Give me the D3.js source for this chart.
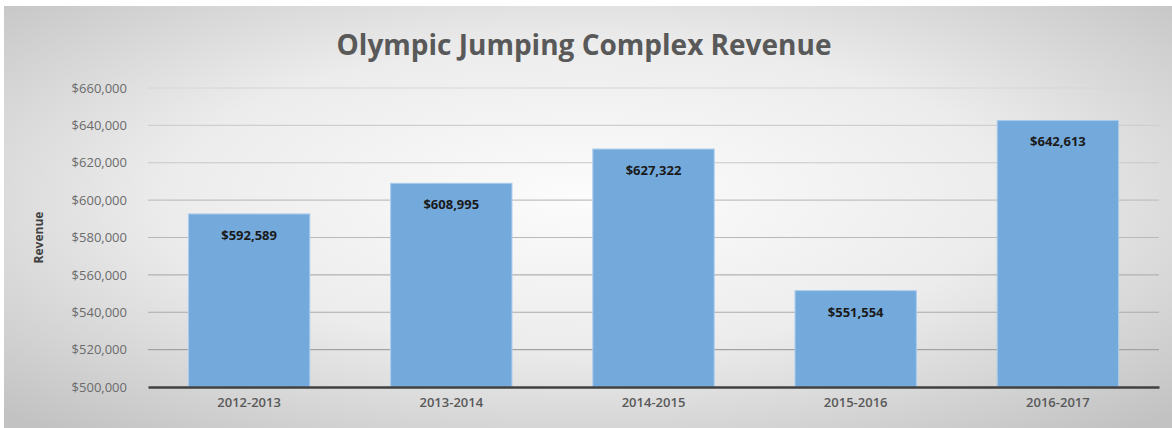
<!DOCTYPE html>
<html>
<head>
<meta charset="utf-8">
<script src="https://cdn.jsdelivr.net/npm/d3@7"></script>
<style>
  html, body { margin: 0; padding: 0; background: #fff; }
  svg { display: block; }
  svg text { font-family: "Open Sans", "Liberation Sans", sans-serif; }
</style>
</head>
<body>
<svg id="chart" width="1172" height="428"></svg>
<script>
const seasons = ['2012-2013', '2013-2014', '2014-2015', '2015-2016', '2016-2017'];
const revenue = [592589, 608995, 627322, 551554, 642613];
const yTicks = [500000, 520000, 540000, 560000, 580000, 600000, 620000, 640000, 660000];

const width = 1172, height = 428;
const margin = { top: 88, right: 13, bottom: 41, left: 148 };

const svg = d3.select('#chart');
const defs = svg.append('defs');
const grad = defs.append('radialGradient')
    .attr('id', 'bg')
    .attr('cx', '50%').attr('cy', '45%').attr('r', '72%');
grad.append('stop').attr('offset', '0%').attr('stop-color', '#fcfcfc');
grad.append('stop').attr('offset', '50%').attr('stop-color', '#ececec');
grad.append('stop').attr('offset', '100%').attr('stop-color', '#c2c2c2');

svg.append('rect')
    .attr('x', 4).attr('y', 6)
    .attr('width', width - 4).attr('height', height - 6)
    .attr('fill', 'url(#bg)');

const x = d3.scaleBand()
    .domain(seasons)
    .range([margin.left, width - margin.right])
    .paddingInner(0.4)
    .paddingOuter(0.2);

const y = d3.scaleLinear()
    .domain([500000, 660000])
    .range([height - margin.bottom, margin.top]);

const fmt = d3.format('$,');

// gridlines fade lighter toward the top, like the source image
const gridColor = d3.scaleLinear()
    .domain([margin.top, height - margin.bottom])
    .range(['#d6d6d6', '#9c9c9c']);

svg.append('g')
    .selectAll('line')
    .data(yTicks.slice(1))
    .enter().append('line')
    .attr('x1', margin.left).attr('x2', width - margin.right)
    .attr('y1', d => y(d)).attr('y2', d => y(d))
    .attr('stroke', d => gridColor(y(d)))
    .attr('stroke-width', 1.2);

// y axis
const yAxis = svg.append('g')
    .attr('transform', `translate(${margin.left},0)`)
    .call(d3.axisLeft(y).tickValues(yTicks).tickFormat(fmt).tickSize(0).tickPadding(21));
yAxis.attr('font-family', null);
yAxis.select('.domain').remove();
yAxis.selectAll('text')
    .attr('fill', '#6b6b6b')
    .style('font-size', '13px');

// bars
svg.append('g')
    .selectAll('rect')
    .data(seasons)
    .enter().append('rect')
    .attr('x', d => x(d))
    .attr('y', (d, i) => y(revenue[i]))
    .attr('width', x.bandwidth())
    .attr('height', (d, i) => y(500000) - y(revenue[i]))
    .attr('fill', '#74a9db')
    .attr('stroke', '#a9cbec')
    .attr('stroke-width', 1);

// value labels
svg.append('g')
    .selectAll('text')
    .data(seasons)
    .enter().append('text')
    .attr('x', d => x(d) + x.bandwidth() / 2)
    .attr('y', (d, i) => y(revenue[i]) + 26)
    .attr('text-anchor', 'middle')
    .attr('fill', '#1a1a1a')
    .style('font-size', '13px')
    .style('font-weight', 'bold')
    .text((d, i) => fmt(revenue[i]));

// x axis
const xAxis = svg.append('g')
    .attr('transform', `translate(0,${height - margin.bottom})`)
    .call(d3.axisBottom(x).tickSize(0).tickPadding(11));
xAxis.attr('font-family', null);
xAxis.select('.domain')
    .attr('stroke', '#404040')
    .attr('stroke-width', 2.5);
xAxis.selectAll('text')
    .attr('fill', '#595959')
    .style('font-size', '13px')
    .style('font-weight', '600');

// title
svg.append('text')
    .attr('x', 584)
    .attr('y', 55)
    .attr('text-anchor', 'middle')
    .attr('fill', '#595959')
    .style('font-size', '28px')
    .style('font-weight', 'bold')
    .text('Olympic Jumping Complex Revenue');

// y axis title
svg.append('text')
    .attr('transform', `translate(43,${(margin.top + height - margin.bottom) / 2}) rotate(-90)`)
    .attr('text-anchor', 'middle')
    .attr('fill', '#404040')
    .style('font-size', '12px')
    .style('font-weight', 'bold')
    .text('Revenue');
</script>
</body>
</html>
